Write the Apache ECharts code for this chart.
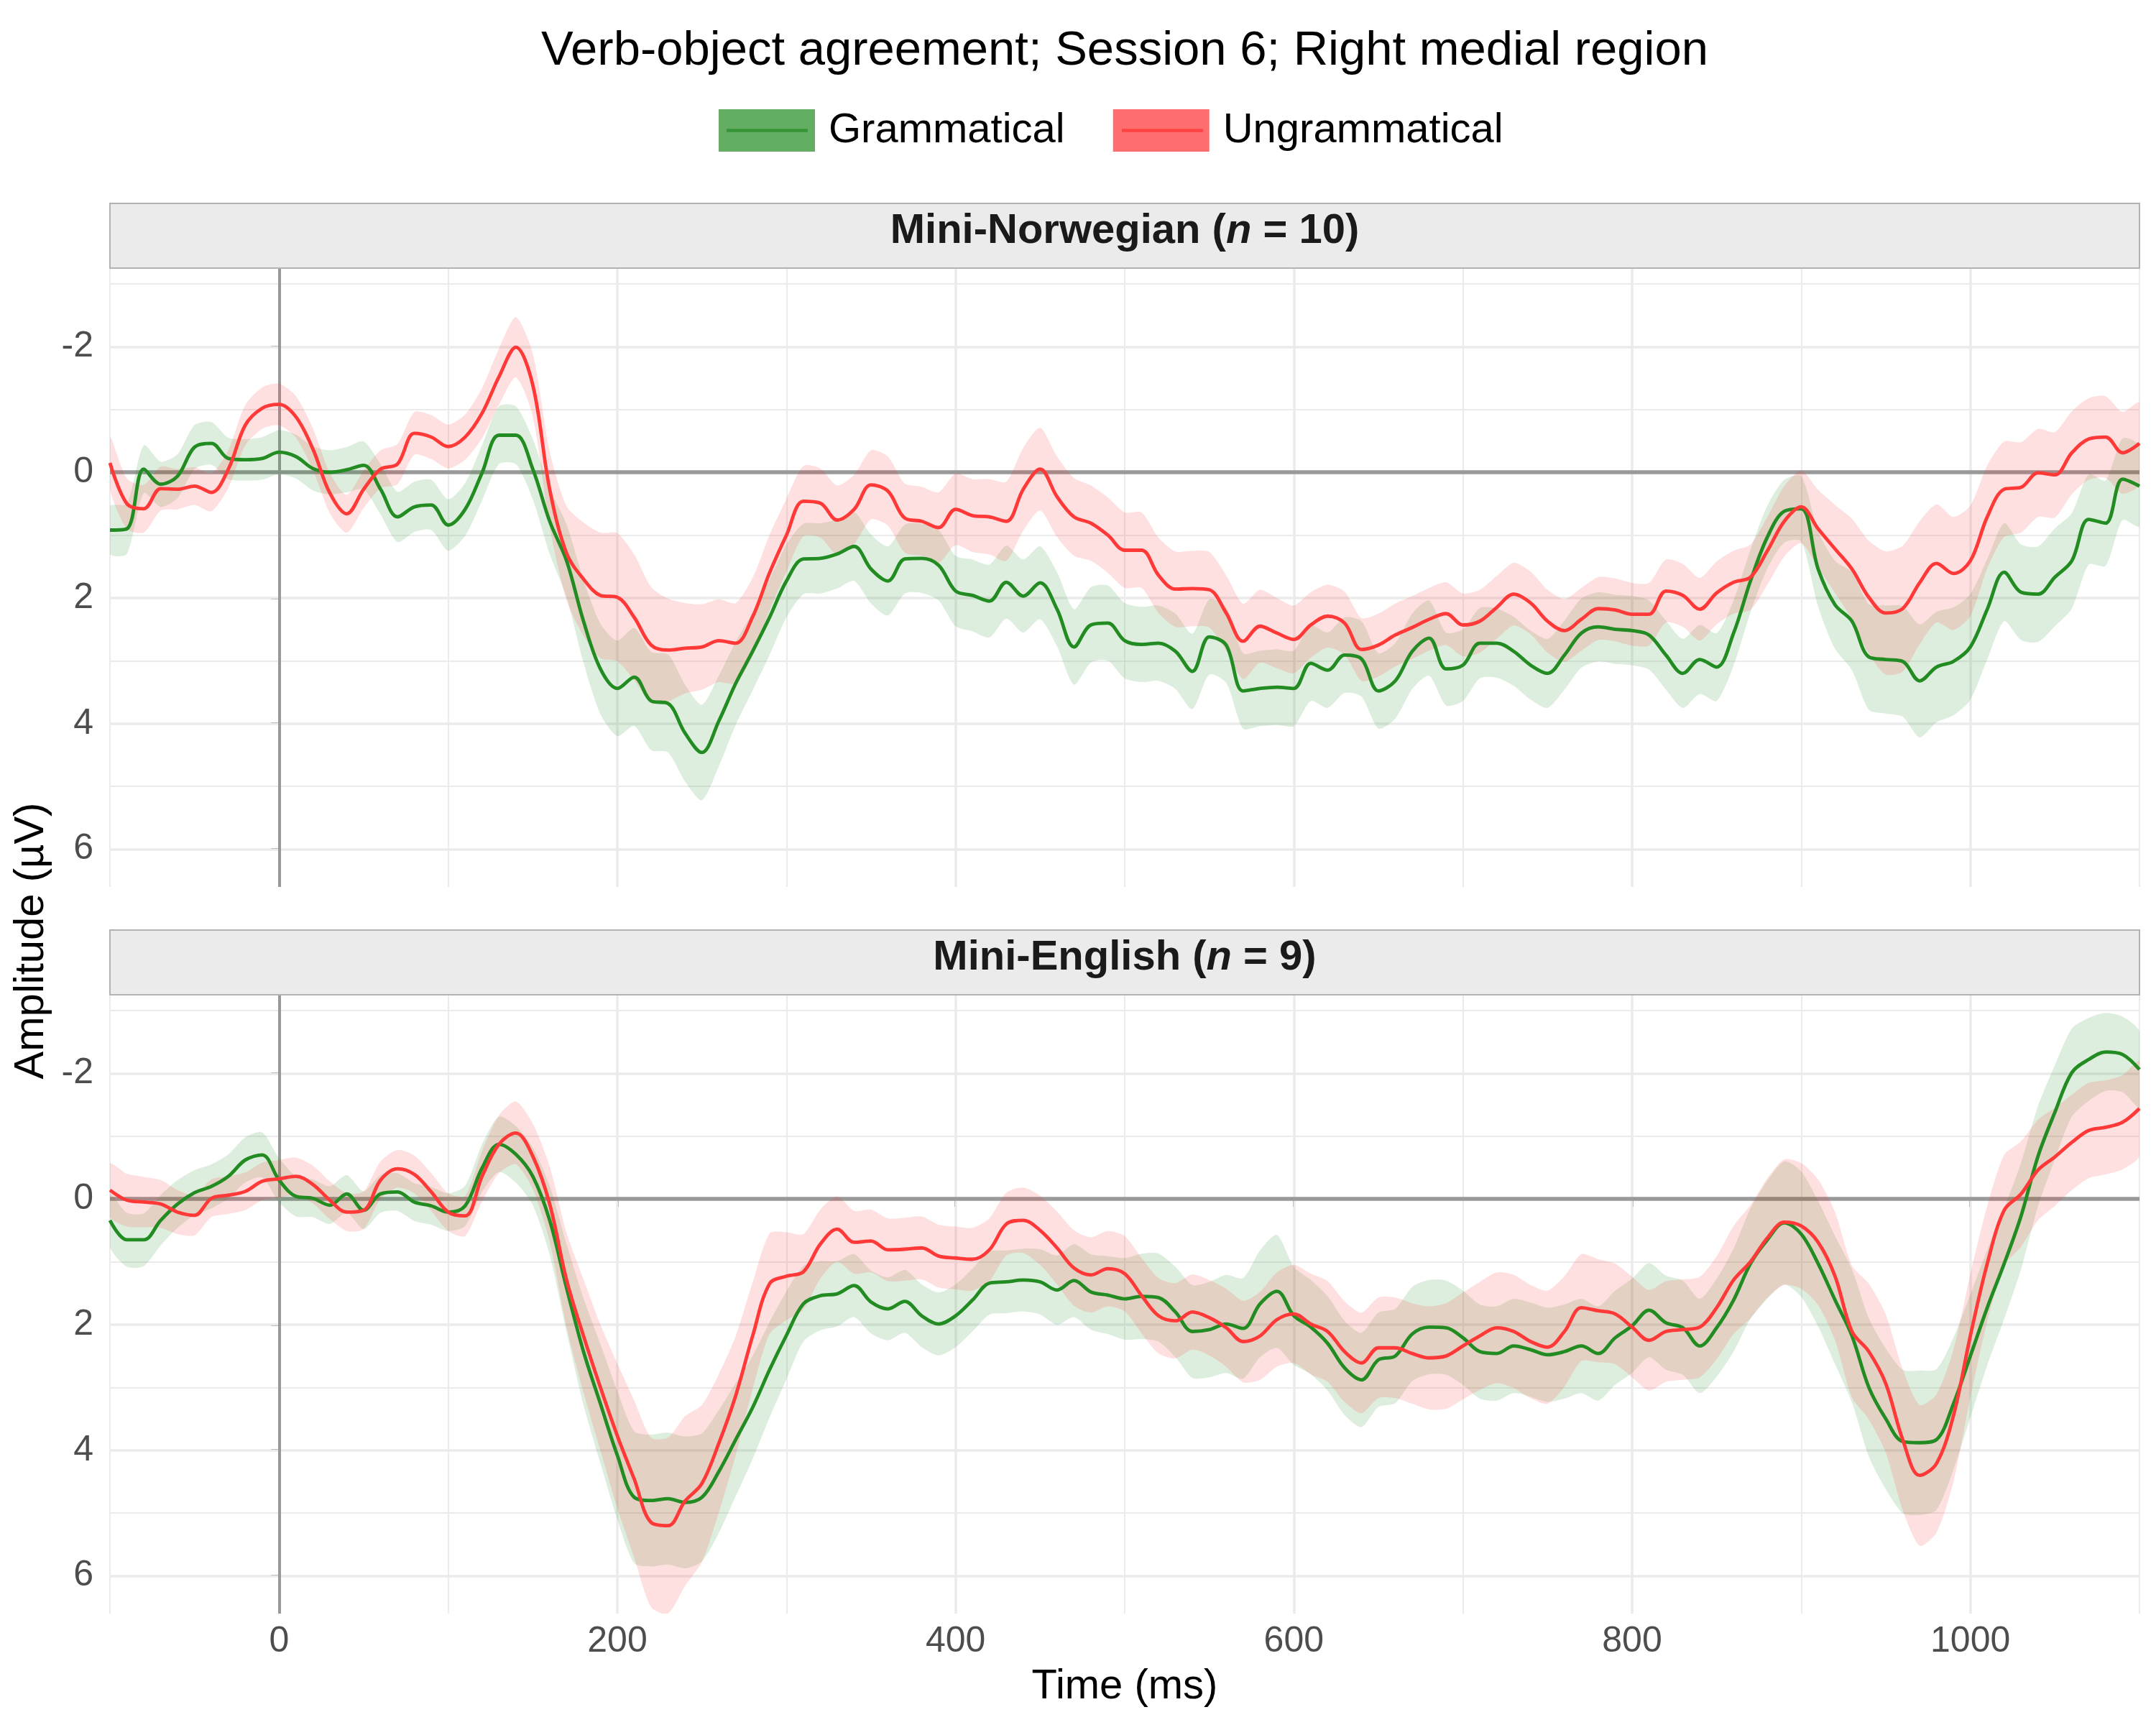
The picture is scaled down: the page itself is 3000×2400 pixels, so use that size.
<!DOCTYPE html>
<html>
<head>
<meta charset="utf-8">
<script src="https://cdn.jsdelivr.net/npm/echarts@6/dist/echarts.min.js"></script>
<style>html,body{margin:0;padding:0;background:#fff}#c{width:3000px;height:2400px}</style>
</head>
<body>
<div id="c"></div>
<script>
// ---------- data ----------
const times = [
  -100,-90,-80,-70,-60,-50,-40,-30,-20,-10,
  0,10,20,30,40,50,60,70,80,90,
  100,110,120,130,140,150,160,170,180,190,
  200,210,220,230,240,250,260,270,280,290,
  300,310,320,330,340,350,360,370,380,390,
  400,410,420,430,440,450,460,470,480,490,
  500,510,520,530,540,550,560,570,580,590,
  600,610,620,630,640,650,660,670,680,690,
  700,710,720,730,740,750,760,770,780,790,
  800,810,820,830,840,850,860,870,880,890,
  900,910,920,930,940,950,960,970,980,990,
  1000,1010,1020,1030,1040,1050,1060,1070,1080,1090,
  1100
];
const panels = ['Mini-Norwegian', 'Mini-English'];
const panelN = [10, 9];
const conditions = ['Grammatical', 'Ungrammatical'];

// Mini-Norwegian, Grammatical
const normGram = [
  0.92,0.9,-0.05,0.19,0.06,-0.4,-0.46,-0.22,-0.2,-0.22,
  -0.32,-0.25,-0.06,0.0,-0.04,-0.11,0.27,0.71,0.55,0.52,
  0.84,0.59,0.01,-0.59,-0.59,-0.05,0.78,1.41,2.37,3.13,
  3.44,3.26,3.64,3.68,4.15,4.46,3.96,3.36,2.85,2.31,
  1.73,1.38,1.37,1.3,1.18,1.54,1.73,1.38,1.37,1.48,
  1.89,1.96,2.05,1.75,1.97,1.76,2.18,2.78,2.43,2.4,
  2.68,2.74,2.72,2.85,3.17,2.62,2.75,3.48,3.44,3.42,
  3.44,3.04,3.15,2.91,2.97,3.48,3.32,2.85,2.64,3.13,
  3.07,2.72,2.72,2.85,3.07,3.2,2.91,2.56,2.46,2.5,
  2.52,2.59,2.91,3.2,2.98,3.1,2.56,1.73,1.03,0.62,
  0.58,1.54,2.11,2.37,2.94,2.98,3.01,3.32,3.1,3.01,
  2.78,2.18,1.59,1.91,1.94,1.67,1.41,0.75,0.81,0.11,
  0.22
];
const normGramSe = [
  .38,.4,.38,.36,.35,.35,.34,.33,.33,.34,
  .35,.35,.35,.35,.36,.38,.4,.4,.4,.4,
  .41,.42,.44,.46,.46,.48,.52,.58,.66,.72,
  .76,.78,.78,.78,.77,.76,.72,.66,.62,.6,
  .58,.56,.56,.55,.55,.55,.55,.55,.55,.56,
  .56,.57,.58,.58,.58,.58,.59,.6,.6,.6,
  .6,.6,.6,.6,.6,.6,.6,.6,.6,.6,
  .6,.6,.6,.6,.6,.6,.6,.6,.6,.58,
  .57,.56,.55,.55,.55,.55,.55,.55,.55,.55,
  .55,.55,.55,.55,.55,.54,.52,.5,.5,.5,
  .52,.6,.7,.78,.84,.86,.88,.9,.88,.86,
  .84,.8,.78,.76,.76,.78,.76,.72,.68,.65,
  .64
];
// Mini-Norwegian, Ungrammatical
const normUngram = [
  -0.15,0.5,0.58,0.26,0.27,0.22,0.32,-0.05,-0.75,-1.02,
  -1.08,-0.88,-0.37,0.33,0.66,0.27,-0.05,-0.13,-0.62,-0.56,
  -0.41,-0.56,-0.94,-1.52,-1.99,-1.39,0.27,1.29,1.7,1.96,
  1.99,2.31,2.75,2.83,2.8,2.78,2.68,2.72,2.3,1.6,
  1.0,0.46,0.49,0.76,0.59,0.2,0.3,0.73,0.78,0.88,
  0.59,0.69,0.71,0.78,0.27,-0.05,0.39,0.71,0.81,1.0,
  1.24,1.24,1.64,1.86,1.85,1.87,2.24,2.69,2.45,2.56,
  2.66,2.43,2.29,2.4,2.82,2.75,2.59,2.47,2.34,2.25,
  2.43,2.37,2.15,1.94,2.08,2.37,2.52,2.34,2.17,2.19,
  2.26,2.26,1.89,1.96,2.18,1.92,1.75,1.67,1.25,0.78,
  0.55,0.9,1.22,1.54,1.99,2.24,2.17,1.76,1.45,1.61,
  1.41,0.71,0.27,0.24,0.01,0.04,-0.31,-0.53,-0.56,-0.31,
  -0.46
];
const normUngramSe = [
  .41,.4,.38,.35,.32,.3,.3,.3,.32,.33,
  .33,.33,.33,.32,.3,.3,.3,.32,.34,.35,
  .35,.36,.4,.45,.48,.5,.6,.75,.9,1.0,
  1.02,1.0,.92,.82,.72,.68,.66,.64,.62,.6,
  .58,.56,.55,.55,.55,.55,.55,.55,.55,.56,
  .57,.58,.6,.63,.66,.66,.64,.62,.6,.6,
  .6,.6,.6,.6,.6,.6,.6,.6,.58,.56,
  .54,.52,.5,.5,.5,.5,.5,.5,.5,.5,
  .5,.5,.5,.5,.5,.5,.5,.5,.5,.5,
  .5,.5,.5,.5,.5,.5,.5,.52,.54,.56,
  .58,.62,.7,.8,.9,.98,1.0,.98,.94,.9,
  .88,.82,.76,.72,.7,.68,.66,.65,.65,.65,
  .65
];
// Mini-English, Grammatical
const engGram = [
  0.34,0.65,0.65,0.34,0.08,-0.1,-0.2,-0.36,-0.62,-0.7,
  -0.3,-0.04,-0.01,0.1,-0.08,0.18,-0.08,-0.11,0.05,0.11,
  0.21,0.11,-0.49,-0.87,-0.71,-0.36,0.34,1.42,2.43,3.26,
  4.08,4.75,4.8,4.77,4.83,4.75,4.34,3.83,3.32,2.72,
  2.17,1.67,1.54,1.51,1.38,1.64,1.75,1.63,1.86,1.99,
  1.86,1.61,1.34,1.32,1.29,1.32,1.45,1.3,1.48,1.53,
  1.59,1.55,1.57,1.8,2.11,2.08,1.99,2.06,1.67,1.47,
  1.86,2.04,2.3,2.69,2.88,2.56,2.5,2.15,2.04,2.05,
  2.21,2.43,2.46,2.34,2.4,2.48,2.43,2.34,2.46,2.21,
  2.02,1.77,1.97,2.05,2.34,2.05,1.61,1.03,0.65,0.38,
  0.56,1.03,1.61,2.18,3.0,3.5,3.86,3.88,3.83,3.26,
  2.5,1.73,1.03,0.27,-0.68,-1.38,-2.01,-2.22,-2.34,-2.3,
  -2.06
];
const engGramSe = [
  .42,.43,.42,.4,.38,.36,.35,.35,.36,.36,
  .35,.32,.3,.3,.3,.3,.3,.3,.3,.3,
  .3,.32,.38,.44,.45,.46,.55,.7,.85,.95,
  1.02,1.05,1.05,1.05,1.05,1.02,.98,.9,.82,.76,
  .7,.6,.55,.52,.5,.5,.5,.5,.5,.5,
  .5,.5,.5,.5,.5,.52,.55,.58,.6,.62,
  .65,.68,.7,.72,.74,.76,.78,.8,.85,.9,
  .78,.75,.75,.75,.75,.75,.75,.75,.75,.75,
  .75,.75,.75,.75,.75,.75,.75,.75,.75,.75,
  .75,.75,.75,.75,.75,.78,.82,.88,.94,.98,
  1.0,1.0,1.02,1.06,1.1,1.12,1.14,1.15,1.12,1.05,
  .98,.92,.88,.85,.8,.75,.7,.66,.62,.6,
  .6
];
// Mini-English, Ungrammatical
const engUngram = [
  -0.14,0.02,0.05,0.08,0.21,0.26,-0.01,-0.06,-0.12,-0.28,
  -0.32,-0.36,-0.23,0.02,0.21,0.18,-0.3,-0.48,-0.39,-0.11,
  0.21,0.27,-0.36,-0.87,-1.05,-0.68,0.08,1.29,2.18,3.0,
  3.77,4.46,5.15,5.2,4.81,4.53,3.89,3.13,2.18,1.35,
  1.23,1.16,0.72,0.48,0.69,0.67,0.81,0.8,0.78,0.91,
  0.94,0.96,0.81,0.4,0.34,0.5,0.78,1.1,1.21,1.11,
  1.19,1.54,1.86,1.94,1.8,1.89,2.05,2.27,2.18,1.92,
  1.83,1.99,2.11,2.43,2.61,2.37,2.37,2.46,2.53,2.5,
  2.34,2.18,2.05,2.11,2.27,2.36,2.11,1.73,1.78,1.83,
  2.04,2.25,2.11,2.08,2.04,1.73,1.29,1.0,0.62,0.37,
  0.43,0.69,1.23,2.11,2.43,2.94,3.83,4.4,4.21,3.45,
  2.18,1.03,0.18,-0.08,-0.46,-0.67,-0.9,-1.09,-1.14,-1.22,
  -1.44
];
const engUngramSe = [
  .42,.42,.4,.38,.35,.32,.3,.3,.3,.3,
  .3,.3,.3,.3,.3,.3,.3,.3,.3,.3,
  .3,.32,.4,.46,.5,.52,.6,.75,.9,1.0,
  1.15,1.25,1.35,1.4,1.35,1.25,1.1,.95,.85,.8,
  .7,.6,.55,.52,.5,.5,.5,.5,.5,.5,
  .5,.5,.5,.5,.52,.55,.58,.6,.6,.6,
  .6,.6,.6,.6,.6,.6,.62,.65,.7,.75,
  .78,.8,.8,.8,.8,.8,.8,.8,.82,.84,
  .85,.86,.88,.9,.9,.9,.88,.85,.82,.8,
  .8,.8,.8,.8,.8,.82,.86,.9,.95,1.0,
  1.0,1.0,1.02,1.05,1.08,1.1,1.12,1.12,1.1,1.05,
  .98,.92,.88,.84,.8,.78,.76,.76,.75,.75,
  .75
];

const xTicks = [0, 200, 400, 600, 800, 1000];
const xMinor = [-100, 100, 300, 500, 700, 900, 1100];
const yTicks = [-2, 0, 2, 4, 6];
const yMinor = [-3, -1, 1, 3, 5];

// ---------- chart ----------
const FONT = 'Liberation Sans, Arial, Helvetica, sans-serif';
const lineColors = ['#228B22', '#FF3838'];
const legendLineColors = ['#369636', '#FF4343'];
const bandColors = ['rgba(34,139,34,0.15)', 'rgba(255,48,48,0.15)'];
const keyColors = ['rgba(34,139,34,0.7)', 'rgba(255,48,48,0.7)'];
const means = [[normGram, normUngram], [engGram, engUngram]];
const ses = [[normGramSe, normUngramSe], [engGramSe, engUngramSe]];

const G = { left: 153, width: 2824, height: 861 };
const gridTops = [373, 1384];
const stripTops = [283, 1294];

const chart = echarts.init(document.getElementById('c'), null, { renderer: 'canvas' });

const grids = gridTops.map(t => ({ left: G.left, top: t, width: G.width, height: G.height, containLabel: false }));

const xAxes = gridTops.map((t, g) => ({
  type: 'value', gridIndex: g, min: -100, max: 1100,
  axisLine: { show: false },
  splitLine: { show: false },
  axisTick: g === 1 ? { show: true, length: 11, lineStyle: { color: '#333333', width: 3 }, customValues: xTicks } : { show: false },
  axisLabel: g === 1 ? { show: true, customValues: xTicks, fontSize: 50, color: '#4d4d4d', fontFamily: FONT, margin: 14, formatter: v => String(v) } : { show: false }
}));

const yAxes = gridTops.map((t, g) => ({
  type: 'value', gridIndex: g, min: -3.25, max: 6.6, inverse: true,
  axisLine: { show: false },
  splitLine: { show: false },
  axisTick: { show: true, length: 11, lineStyle: { color: '#333333', width: 3 }, customValues: yTicks },
  axisLabel: { show: true, customValues: yTicks, fontSize: 50, color: '#4d4d4d', fontFamily: FONT, margin: 23, formatter: v => String(v) }
}));

function ribbon(g, c) {
  const m = means[g][c], s = ses[g][c];
  const rows = times.map((t, i) => [t, +(m[i] - s[i]).toFixed(3), +(m[i] + s[i]).toFixed(3)]);
  return {
    name: conditions[c] + ' ribbon ' + g,
    type: 'custom', xAxisIndex: g, yAxisIndex: g, silent: true, z: 2, clip: true,
    encode: { x: 0, y: [1, 2] },
    data: rows,
    renderItem: function (params, api) {
      if (params.dataIndex !== 0) return null;
      const pts = [];
      for (let i = 0; i < rows.length; i++) pts.push(api.coord([rows[i][0], rows[i][2]]));
      for (let i = rows.length - 1; i >= 0; i--) pts.push(api.coord([rows[i][0], rows[i][1]]));
      return { type: 'polygon', shape: { points: pts, smooth: 0.25 }, style: { fill: bandColors[c] } };
    }
  };
}

const series = [];
for (let g = 0; g < 2; g++) {
  const gl = [];
  xMinor.forEach(v => gl.push({ xAxis: v, lineStyle: { color: '#ebebeb', width: 2, type: 'solid' } }));
  yMinor.forEach(v => gl.push({ yAxis: v, lineStyle: { color: '#ebebeb', width: 2, type: 'solid' } }));
  xTicks.forEach(v => gl.push({ xAxis: v, lineStyle: { color: '#ebebeb', width: 3.5, type: 'solid' } }));
  yTicks.forEach(v => gl.push({ yAxis: v, lineStyle: { color: '#ebebeb', width: 3.5, type: 'solid' } }));
  series.push({
    type: 'line', xAxisIndex: g, yAxisIndex: g, data: [[0, 0]], symbol: 'none', silent: true,
    lineStyle: { width: 0, opacity: 0 }, z: 0,
    markLine: { silent: true, z: 0.5, symbol: ['none', 'none'], label: { show: false }, animation: false, emphasis: { disabled: true }, data: gl }
  });
  series.push({
    type: 'line', xAxisIndex: g, yAxisIndex: g, data: [[0, 0]], symbol: 'none', silent: true,
    lineStyle: { width: 0, opacity: 0 }, z: 0,
    markLine: { silent: true, z: 1, symbol: ['none', 'none'], label: { show: false }, animation: false, emphasis: { disabled: true },
      data: [
        { yAxis: 0, lineStyle: { color: '#999999', width: 5.5, type: 'solid' } },
        { xAxis: 0, lineStyle: { color: '#999999', width: 4, type: 'solid' } }
      ] }
  });
  series.push(ribbon(g, 0));
  series.push(ribbon(g, 1));
  for (let c = 0; c < 2; c++) {
    const m = means[g][c];
    series.push({
      name: conditions[c], type: 'line', xAxisIndex: g, yAxisIndex: g,
      symbol: 'none', smooth: 0.35, z: 3,
      lineStyle: { color: lineColors[c], width: 4.8 },
      itemStyle: { color: lineColors[c] },
      data: times.map((t, i) => [t, m[i]])
    });
  }
}

const graphics = [];
stripTops.forEach((t, g) => {
  graphics.push({
    type: 'rect', z: 10, silent: true,
    shape: { x: G.left, y: t, width: G.width, height: gridTops[g] - t },
    style: { fill: '#ebebeb', stroke: '#b3b3b3', lineWidth: 2 }
  });
  graphics.push({
    type: 'text', z: 11, silent: true, x: G.left + G.width / 2, y: t + 39,
    style: {
      text: '{b|' + panels[g] + ' (}{i|n}{b| = ' + panelN[g] + ')}',
      align: 'center', verticalAlign: 'middle',
      rich: {
        b: { fontSize: 58, fontWeight: 'bold', fontFamily: FONT, fill: '#1a1a1a', color: '#1a1a1a' },
        i: { fontSize: 58, fontWeight: 'bold', fontStyle: 'italic', fontFamily: FONT, fill: '#1a1a1a', color: '#1a1a1a' }
      }
    }
  });
});
[[1011, 1124], [1561, 1674]].forEach((xs, c) => {
  graphics.push({
    type: 'line', z: 20, silent: true,
    shape: { x1: xs[0], y1: 181.5, x2: xs[1], y2: 181.5 },
    style: { stroke: legendLineColors[c], lineWidth: 4.5 }
  });
});
graphics.push({
  type: 'text', z: 11, silent: true, x: G.left + G.width / 2, y: 2347,
  style: { text: 'Time (ms)', fontSize: 58, fontFamily: FONT, fill: '#000', align: 'center', verticalAlign: 'middle' }
});
graphics.push({
  type: 'text', z: 11, silent: true, x: 44, y: 1309, rotation: Math.PI / 2,
  style: { text: 'Amplitude (\u00B5V)', fontSize: 58, fontFamily: FONT, fill: '#000', align: 'center', verticalAlign: 'middle' }
});

chart.setOption({
  backgroundColor: '#ffffff',
  animation: false,
  title: {
    text: 'Verb-object agreement; Session 6; Right medial region',
    left: 1565, top: 38, textAlign: 'center', padding: 0,
    textStyle: { fontSize: 67, fontWeight: 'normal', color: '#000', fontFamily: FONT }
  },
  legend: {
    left: 1000, top: 152, padding: 0, itemWidth: 134, itemHeight: 59, itemGap: 67, selectedMode: false,
    textStyle: { fontSize: 58, color: '#000', fontFamily: FONT, padding: [22, 0, 0, 14] },
    data: conditions.map((n, c) => ({ name: n, icon: 'rect', itemStyle: { color: keyColors[c], borderWidth: 0 } }))
  },
  grid: grids,
  xAxis: xAxes,
  yAxis: yAxes,
  series: series,
  graphic: graphics
});
</script>
</body>
</html>
